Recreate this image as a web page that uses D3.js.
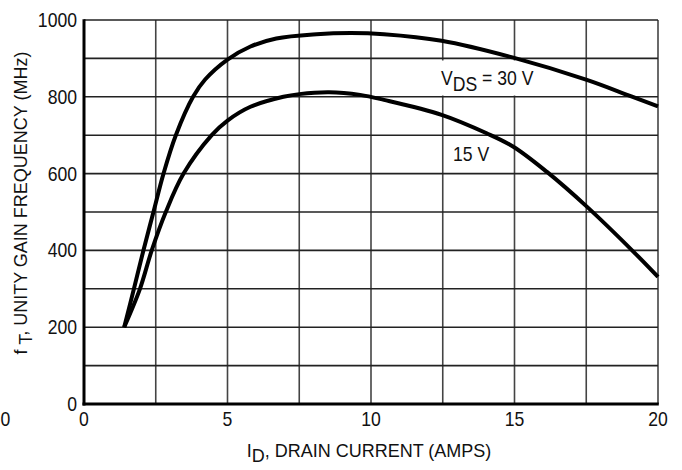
<!DOCTYPE html>
<html><head><meta charset="utf-8">
<script src="https://cdn.jsdelivr.net/npm/d3@7"></script>
<style>
html,body{margin:0;padding:0;background:#fff;}
text{font-family:"Liberation Sans",Arial,Helvetica,sans-serif;fill:#111;}
</style></head>
<body>
<svg id="c" width="682" height="470"></svg>
<script>
// Data
const xTicks = [0, 5, 10, 15, 20];
const yTicks = [0, 200, 400, 600, 800, 1000];
const xGrid = [0, 2.5, 5, 7.5, 10, 12.5, 15, 17.5, 20];
const yGrid = [0, 100, 200, 300, 400, 500, 600, 700, 800, 900, 1000];

const id30 = [1.4, 1.74, 2.07, 2.42, 2.77, 3.2, 3.8, 4.22, 5.0, 5.8, 6.7, 8.1, 9.3, 10.45, 12.46, 14.96, 17.52, 19.0, 20];
const ft30 = [200, 300, 400, 500, 600, 700, 800, 845, 897, 931, 952, 963, 966, 963, 946, 902, 844, 803, 775];
const id15 = [1.4, 1.95, 2.36, 2.85, 3.47, 4.45, 5.0, 5.8, 6.95, 7.5, 8.54, 9.62, 10.45, 12.46, 14.03, 14.96, 16.12, 17.52, 19.14, 20];
const ft15 = [200, 300, 400, 500, 600, 700, 738, 774, 800, 807, 812, 805, 792, 753, 705, 670, 605, 514, 397, 331];

const svg = d3.select("#c");
const x = d3.scaleLinear().domain([0, 20]).range([84, 658]);
const y = d3.scaleLinear().domain([0, 1000]).range([404, 20]);

// grid
const g = svg.append("g");
g.selectAll("line.v").data(xGrid).join("line")
  .attr("x1", d => x(d)).attr("x2", d => x(d)).attr("y1", y(0)).attr("y2", y(1000))
  .attr("stroke", "#444").attr("stroke-width", 1.6);
g.selectAll("line.h").data(yGrid).join("line")
  .attr("y1", d => y(d)).attr("y2", d => y(d)).attr("x1", x(0)).attr("x2", x(20))
  .attr("stroke", "#222").attr("stroke-width", 1.6);

// axes (thick left & bottom)
svg.append("line").attr("x1", x(0)).attr("x2", x(0)).attr("y1", y(1000) - 0.8).attr("y2", y(0) + 1.5)
  .attr("stroke", "#000").attr("stroke-width", 3);
svg.append("line").attr("x1", x(0) - 1.5).attr("x2", x(20) + 0.8).attr("y1", y(0)).attr("y2", y(0))
  .attr("stroke", "#000").attr("stroke-width", 3);

// label background
svg.append("rect").attr("x", 438).attr("y", 60.5).attr("width", 99).attr("height", 35).attr("fill", "#fff");

// curves
const line = d3.line().x(d => x(d[0])).y(d => y(d[1])).curve(d3.curveCatmullRom.alpha(0.5));
const s30 = id30.map((v, i) => [v, ft30[i]]);
const s15 = id15.map((v, i) => [v, ft15[i]]);
[s30, s15].forEach(s => {
  svg.append("path").attr("d", line(s)).attr("fill", "none")
    .attr("stroke", "#000").attr("stroke-width", 4).attr("stroke-linejoin", "round");
});

// narrow text helper
function ntext(px, py, anchor, size, sx) {
  return svg.append("g").attr("transform", `translate(${px},${py}) scale(${sx},1)`)
    .append("text").attr("text-anchor", anchor).attr("font-size", size);
}

// tick labels
xTicks.forEach(d => ntext(x(d), 426, "middle", 20, 0.88).text(d));
yTicks.forEach(d => ntext(77, y(d) + 7, "end", 20, 0.88).text(d));
// stray label at far left as in the reference
ntext(0.5, 426, "start", 20, 0.88).text("0");

// axis titles
const xt = svg.append("text").attr("x", 369).attr("y", 457).attr("text-anchor", "middle").attr("font-size", 18);
xt.append("tspan").text("I");
xt.append("tspan").attr("baseline-shift", "-25%").text("D");
xt.append("tspan").text(", DRAIN CURRENT (AMPS)");

const yt = svg.append("text").attr("transform", "translate(27,203) rotate(-90)").attr("text-anchor", "middle").attr("font-size", 18);
yt.append("tspan").text("f ");
yt.append("tspan").attr("baseline-shift", "-25%").text("T");
yt.append("tspan").text(", UNITY GAIN FREQUENCY (MHz)");

// series labels
const l30 = ntext(441, 85, "start", 20, 0.88);
l30.append("tspan").text("V");
l30.append("tspan").attr("baseline-shift", "-30%").text("DS");
l30.append("tspan").text(" = 30 V");
ntext(453, 161, "start", 20, 0.88).text("15 V");
</script>
</body></html>
